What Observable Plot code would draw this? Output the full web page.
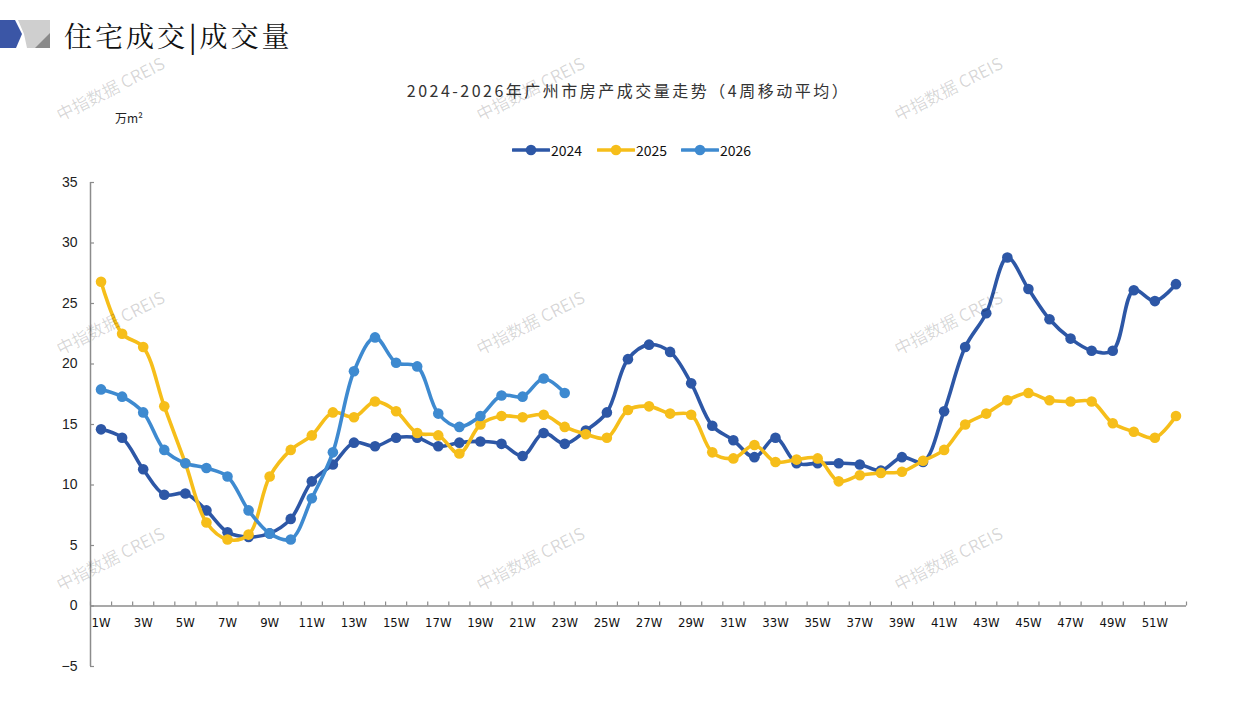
<!DOCTYPE html>
<html>
<head>
<meta charset="utf-8">
<script src="https://cdn.jsdelivr.net/npm/d3@7"></script>
<script src="https://cdn.jsdelivr.net/npm/@observablehq/plot@0.6"></script>
<style>
  html, body { margin: 0; padding: 0; background: #fff; }
  #page { position: relative; width: 1257px; height: 706px; overflow: hidden; background: #fff; font-family: "Noto Sans CJK SC", "Noto Sans", sans-serif; }
  .abs { position: absolute; white-space: nowrap; }
  .wm { position: absolute; color: rgba(0,0,0,0.16); font-size: 17px; font-family: "Noto Sans CJK SC", sans-serif; transform: translate(-50%,-50%) rotate(-27deg); white-space: nowrap; pointer-events: none; }
  #chart { position: absolute; left: 0; top: 170px; }
  .leg { position: absolute; top: 140px; height: 20px; display: flex; align-items: center; font-size: 14px; color: #111; font-family: "Noto Sans CJK SC", sans-serif; }
</style>
</head>
<body>
<div id="page">
  <svg class="abs" style="left:0;top:0" width="60" height="60">
    <polygon points="18,20 50,20 50,48 27,48 24,34" fill="#cfcfcf"/>
    <polygon points="35,48 50,33 50,48" fill="#8a8a8a"/>
    <polygon points="0,20 15,20 22,34 16,48 0,48" fill="#3b56a6"/>
  </svg>
  <div class="abs" style="left:64px;top:15px;font-size:28px;letter-spacing:3px;color:#111;font-family:'Noto Serif CJK SC','Noto Sans CJK SC',serif;line-height:40px;">住宅成交<span style="font-weight:bold;letter-spacing:2px">|</span>成交量</div>
  <div class="abs" id="title" style="left:0;width:1257px;text-align:center;top:78px;font-size:16px;letter-spacing:2.5px;color:#333;">2024-2026年广州市房产成交量走势（4周移动平均）</div>
  <div class="abs" style="left:115px;top:109px;font-size:12px;color:#222;">万m²</div>
  <div id="legend"></div>
  <div id="chart"></div>
  <div id="wms"></div>
</div>
<script>
// ---- data ----
const seriesNames = ["2024", "2025", "2026"];
const seriesColors = ["#2d57a6", "#f6be1a", "#3e8ad0"];
const v2024 = [14.6,13.9,11.3,9.2,9.3,7.9,6.1,5.7,6.0,7.2,
               10.3,11.7,13.5,13.2,13.9,13.9,13.2,13.5,13.6,13.4,
               12.4,14.3,13.4,14.5,16.0,20.4,21.6,21.0,18.4,14.9,
               13.7,12.3,13.9,11.8,11.8,11.8,11.7,11.2,12.3,11.9,
               16.1,21.4,24.2,28.8,26.2,23.7,22.1,21.1,21.1,26.1,
               25.2,26.6];
const v2025 = [26.8,22.5,21.4,16.5,11.8,6.9,5.5,5.9,10.7,12.9,
               14.1,16.0,15.6,16.9,16.1,14.3,14.1,12.6,15.0,15.7,
               15.6,15.8,14.8,14.2,13.9,16.2,16.5,15.9,15.8,12.7,
               12.2,13.3,11.9,12.1,12.2,10.3,10.8,11.0,11.1,12.0,
               12.9,15.0,15.9,17.0,17.6,17.0,16.9,16.9,15.1,14.4,
               13.9,15.7];
const v2026 = [17.9,17.3,16.0,12.9,11.8,11.4,10.7,7.9,6.0,5.5,
               8.9,12.7,19.4,22.2,20.1,19.8,15.9,14.8,15.7,17.4,
               17.3,18.8,17.6];
const weekLabels = ["1W","3W","5W","7W","9W","11W","13W","15W","17W","19W","21W","23W","25W",
                    "27W","29W","31W","33W","35W","37W","39W","41W","43W","45W","47W","49W","51W"];
const yTicks = [-5, 0, 5, 10, 15, 20, 25, 30, 35];

// ---- build ----
const allValues = [v2024, v2025, v2026];
const rows = [];
allValues.forEach((arr, si) => arr.forEach((v, i) => rows.push({series: seriesNames[si], week: i + 1, value: v})));
const labelRows = weekLabels.map(l => ({label: l, week: parseInt(l)}));
const nWeeks = v2024.length;
const bounds = d3.range(0, nWeeks + 1).map(i => i + 0.5);

const W = 1257, H = 520;
const axisColor = "#8c8c8c";
const pxPerWeek = (1186 - 90) / nWeeks;
const pxPerUnit = (666 - 182) / 40;

const marks = [
  Plot.ruleX([0.5], {y1: -5, y2: 35, stroke: axisColor, strokeWidth: 1.5}),
  Plot.ruleY([0], {x1: 0.5, x2: nWeeks + 0.5, stroke: axisColor, strokeWidth: 1.5}),
  Plot.ruleX(bounds, {y1: 0, y2: 4 / pxPerUnit, stroke: axisColor, strokeWidth: 1.2}),
  Plot.ruleY(yTicks, {x1: 0.5, x2: 0.5 + 4 / pxPerWeek, stroke: axisColor, strokeWidth: 1.2}),
  Plot.axisY({ticks: yTicks, tickSize: 0, tickPadding: 13, fontSize: 14, fill: "#222", label: null, tickFormat: d => d < 0 ? "−" + Math.abs(d) : String(d)}),
  Plot.text(labelRows, {x: "week", y: 0, text: "label", dy: 17, fontSize: 13, fill: "#111",
    fontFamily: "'Liberation Sans Narrow','DejaVu Sans Condensed','Liberation Sans',sans-serif"})
];
seriesNames.forEach((s, i) => {
  const d = rows.filter(r => r.series === s);
  marks.push(Plot.line(d, {x: "week", y: "value", stroke: seriesColors[i], strokeWidth: 3.6, curve: "catmull-rom", strokeLinejoin: "round", strokeLinecap: "round"}));
  marks.push(Plot.dot(d, {x: "week", y: "value", r: 5.3, fill: seriesColors[i], stroke: "none"}));
});

const chart = Plot.plot({
  width: W, height: H,
  marginLeft: 90, marginRight: W - 1186, marginTop: 12, marginBottom: 24,
  x: {type: "linear", domain: [0.5, nWeeks + 0.5], axis: null},
  y: {domain: [-5, 35], axis: null, label: null},
  style: {fontFamily: "'Liberation Sans', Arial, sans-serif", background: "transparent", overflow: "visible"},
  marks
});
document.getElementById("chart").appendChild(chart);

// ---- legend ----
const legendX = [512, 597, 681];
const legend = document.getElementById("legend");
seriesNames.forEach((s, i) => {
  const div = document.createElement("div");
  div.className = "leg";
  div.style.left = legendX[i] + "px";
  div.innerHTML = `<svg width="38" height="20"><line x1="1" y1="10" x2="37" y2="10" stroke="${seriesColors[i]}" stroke-width="3.6" stroke-linecap="round"/><circle cx="19" cy="10" r="5.3" fill="${seriesColors[i]}"/></svg><span style="margin-left:1px">${s}</span>`;
  legend.appendChild(div);
});

// ---- watermarks ----
const wmPos = [[110,88],[530,88],[948,88],[110,322],[530,322],[948,322],[110,558],[530,558],[948,558]];
const wms = document.getElementById("wms");
wmPos.forEach(([x, y]) => {
  const d = document.createElement("div");
  d.className = "wm";
  d.style.left = x + "px"; d.style.top = y + "px";
  d.textContent = "中指数据 CREIS";
  wms.appendChild(d);
});
</script>
</body>
</html>
